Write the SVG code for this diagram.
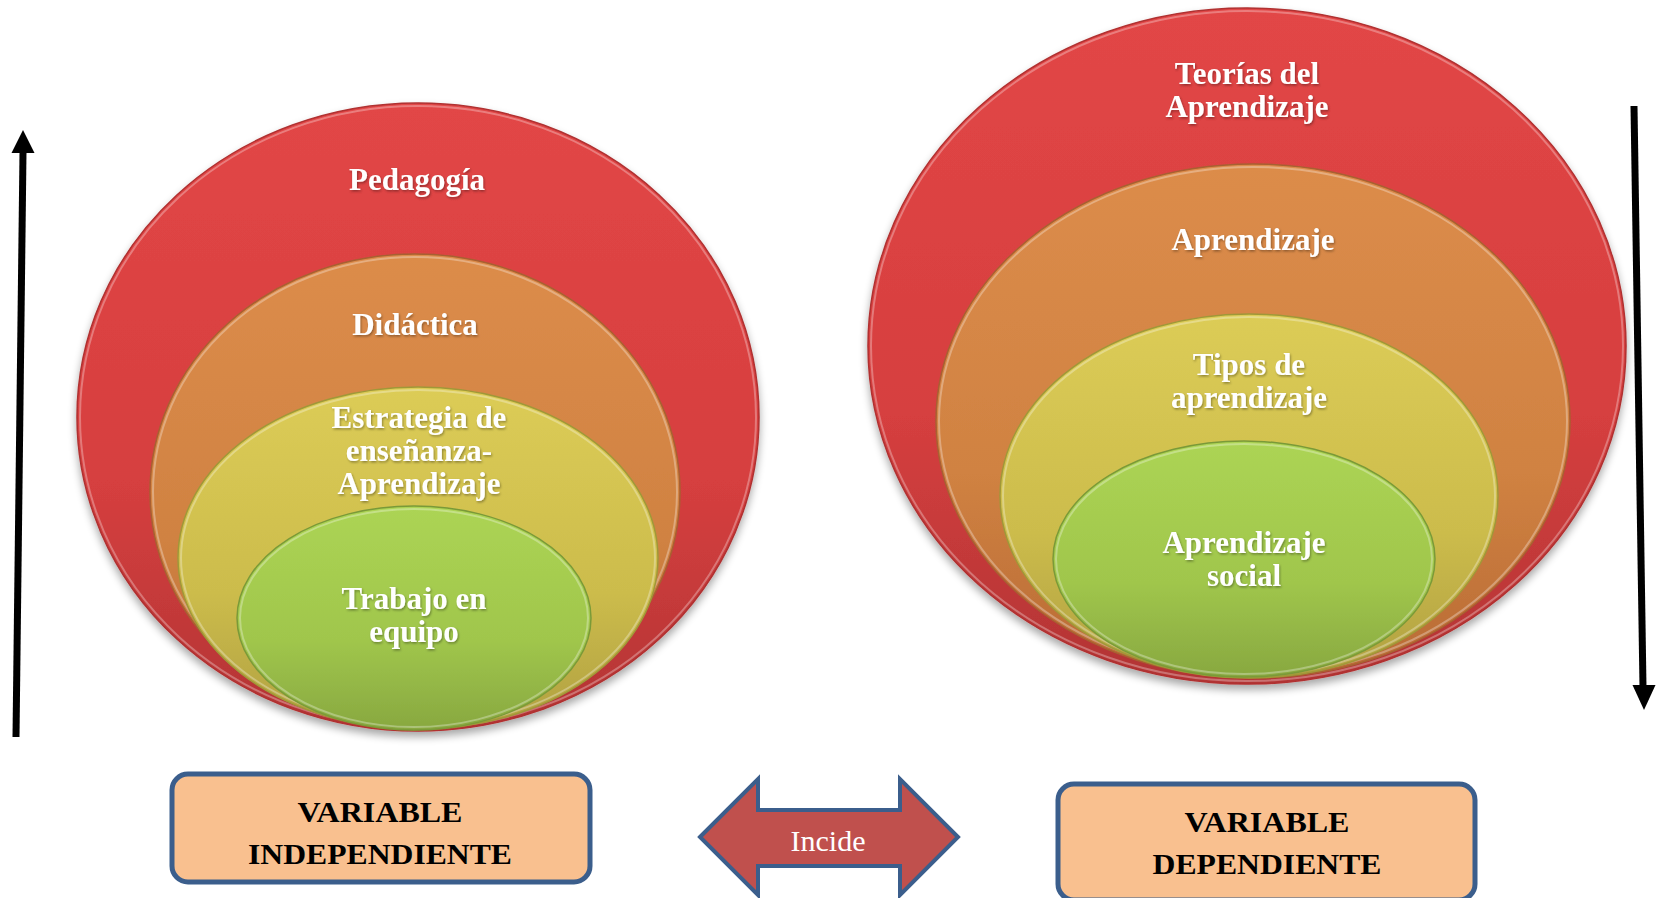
<svg xmlns="http://www.w3.org/2000/svg" width="1663" height="898" viewBox="0 0 1663 898">
<style>
.lbl{font-family:"Liberation Serif","Times New Roman",serif;font-weight:bold;font-size:31px;fill:#ffffff;text-anchor:middle}
.box{fill:#F9C08F;stroke:#3B5E8C;stroke-width:5}
.btxt{font-family:"Liberation Serif","Times New Roman",serif;font-weight:bold;font-size:29px;fill:#000000;text-anchor:middle}
.red{fill:url(#gRed);stroke:#B03030;stroke-width:1.5}
.org{fill:url(#gOrg);stroke:#A86030;stroke-width:1.5}
.yel{fill:url(#gYel);stroke:#A09838;stroke-width:1.5}
.grn{fill:url(#gGrn);stroke:#7A9A38;stroke-width:1.5}
.rim{fill:none;stroke:#ffffff;stroke-opacity:0.3;stroke-width:2}
.axis{stroke:#000;stroke-width:7;fill:none}
.head{fill:#000}
</style>
<defs>
<linearGradient id="gRed" x1="0" y1="0" x2="0" y2="1"><stop offset="0" stop-color="#E24646"/><stop offset="0.6" stop-color="#D63F3F"/><stop offset="1" stop-color="#B23434"/></linearGradient>
<linearGradient id="gOrg" x1="0" y1="0" x2="0" y2="1"><stop offset="0" stop-color="#DC8C4A"/><stop offset="0.6" stop-color="#D08242"/><stop offset="1" stop-color="#B86A34"/></linearGradient>
<linearGradient id="gYel" x1="0" y1="0" x2="0" y2="1"><stop offset="0" stop-color="#DCCC56"/><stop offset="0.6" stop-color="#CCBC4C"/><stop offset="1" stop-color="#B0A040"/></linearGradient>
<linearGradient id="gGrn" x1="0" y1="0" x2="0" y2="1"><stop offset="0" stop-color="#ACD454"/><stop offset="0.6" stop-color="#A0C64C"/><stop offset="1" stop-color="#88A840"/></linearGradient>
<filter id="sh" x="-10%" y="-10%" width="120%" height="125%"><feGaussianBlur in="SourceAlpha" stdDeviation="4"/><feOffset dy="5"/><feComponentTransfer><feFuncA type="linear" slope="0.35"/></feComponentTransfer><feMerge><feMergeNode/><feMergeNode in="SourceGraphic"/></feMerge></filter>
<filter id="ts"><feDropShadow dx="1" dy="1.5" stdDeviation="1" flood-color="#000" flood-opacity="0.35"/></filter>
</defs>
<rect width="1663" height="898" fill="#ffffff"/>

<g id="left-stack" filter="url(#sh)">
<g id="n-pedagogia"><ellipse class="red" cx="418" cy="417" rx="341" ry="314"/><ellipse class="rim" cx="418" cy="417" rx="338" ry="311"/><text class="lbl" x="417" y="190" filter="url(#ts)">Pedagogía</text></g>
<g id="n-didactica"><ellipse class="org" cx="415" cy="492" rx="265" ry="238"/><ellipse class="rim" cx="415" cy="492" rx="262" ry="235"/><text class="lbl" x="415" y="335" filter="url(#ts)">Didáctica</text></g>
<g id="n-estrategia"><ellipse class="yel" cx="418" cy="558" rx="240" ry="171"/><ellipse class="rim" cx="418" cy="558" rx="237" ry="168"/><text class="lbl" x="419" y="428" filter="url(#ts)">Estrategia de</text><text class="lbl" x="419" y="461" filter="url(#ts)">enseñanza-</text><text class="lbl" x="419" y="494" filter="url(#ts)">Aprendizaje</text></g>
<g id="n-trabajo"><ellipse class="grn" cx="414" cy="618" rx="177" ry="112"/><ellipse class="rim" cx="414" cy="618" rx="174" ry="109"/><text class="lbl" x="414" y="609" filter="url(#ts)">Trabajo en</text><text class="lbl" x="414" y="642" filter="url(#ts)">equipo</text></g>
</g>

<g id="right-stack" filter="url(#sh)">
<g id="n-teorias"><ellipse class="red" cx="1247" cy="346" rx="379" ry="338"/><ellipse class="rim" cx="1247" cy="346" rx="376" ry="335"/><text class="lbl" x="1247" y="84" filter="url(#ts)">Teorías del</text><text class="lbl" x="1247" y="117" filter="url(#ts)">Aprendizaje</text></g>
<g id="n-aprendizaje"><ellipse class="org" cx="1253" cy="421" rx="317" ry="257"/><ellipse class="rim" cx="1253" cy="421" rx="314" ry="254"/><text class="lbl" x="1253" y="250" filter="url(#ts)">Aprendizaje</text></g>
<g id="n-tipos"><ellipse class="yel" cx="1249" cy="496" rx="249" ry="182"/><ellipse class="rim" cx="1249" cy="496" rx="246" ry="179"/><text class="lbl" x="1249" y="375" filter="url(#ts)">Tipos de</text><text class="lbl" x="1249" y="408" filter="url(#ts)">aprendizaje</text></g>
<g id="n-social"><ellipse class="grn" cx="1244" cy="559" rx="191" ry="118"/><ellipse class="rim" cx="1244" cy="559" rx="188" ry="115"/><text class="lbl" x="1244" y="553" filter="url(#ts)">Aprendizaje</text><text class="lbl" x="1244" y="586" filter="url(#ts)">social</text></g>
</g>

<g id="connectors">
<g id="axis-up"><line class="axis" x1="16" y1="737" x2="23" y2="152"/><path class="head" d="M11.5,153 L34.5,153 L23,130 Z"/></g>
<g id="axis-down"><line class="axis" x1="1634" y1="106" x2="1643" y2="687"/><path class="head" d="M1632.5,685 L1655.5,685 L1644,710 Z"/></g>
<g id="incide">
<path d="M700,837 L758,779 L758,810 L900,810 L900,779 L958,837 L900,895 L900,866 L758,866 L758,895 Z" fill="#C0504D" stroke="#3B5E8C" stroke-width="4" stroke-linejoin="miter"/>
<text x="828" y="851" font-family="'Liberation Serif','Times New Roman',serif" font-size="30" fill="#ffffff" text-anchor="middle">Incide</text>
</g>
</g>

<g id="var-independiente">
<rect class="box" x="172" y="774" width="418" height="108" rx="16"/>
<text class="btxt" x="380" y="822" textLength="165" lengthAdjust="spacingAndGlyphs">VARIABLE</text>
<text class="btxt" x="380" y="864" textLength="264" lengthAdjust="spacingAndGlyphs">INDEPENDIENTE</text>
</g>
<g id="var-dependiente">
<rect class="box" x="1058" y="784" width="417" height="116" rx="16"/>
<text class="btxt" x="1267" y="832" textLength="165" lengthAdjust="spacingAndGlyphs">VARIABLE</text>
<text class="btxt" x="1267" y="874" textLength="229" lengthAdjust="spacingAndGlyphs">DEPENDIENTE</text>
</g>
</svg>
